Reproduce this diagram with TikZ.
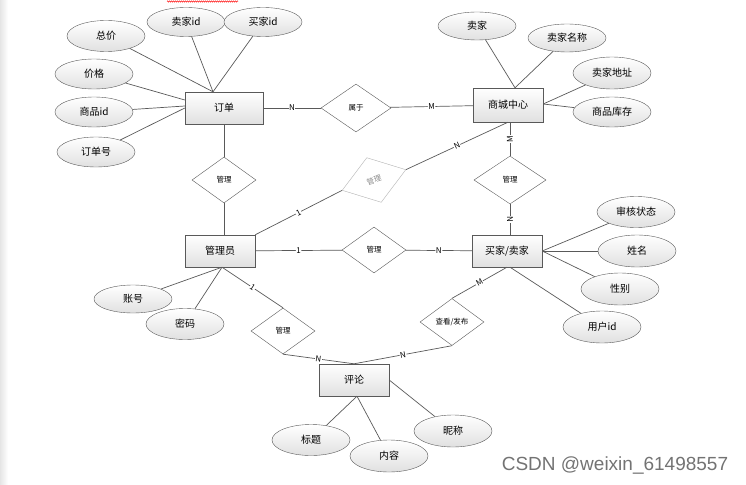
\documentclass[tikz,border=0pt]{standalone}
\usepackage{fontspec}
\setmainfont{Noto Sans CJK SC}
\newfontfamily\wmfont{Liberation Sans}
\usetikzlibrary{shapes.geometric,decorations.pathmorphing}

\tikzset{
  entity/.style={draw=black!65, top color=white, bottom color=black!12, minimum width=70pt, minimum height=32pt, inner sep=0pt, font=\fontsize{10}{10}\selectfont},
  attr/.style={ellipse, draw=black!65, top color=white, bottom color=black!12, minimum width=78pt, minimum height=31pt, inner sep=0pt, font=\fontsize{10}{10}\selectfont},
  rel/.style={diamond, draw=black!65, fill=white, minimum width=64pt, minimum height=46pt, inner sep=0pt, font=\fontsize{7.5}{7.5}\selectfont},
  card/.style={fill=white, inner sep=0.6pt, sloped, font=\fontsize{8}{8}\selectfont},
  conn/.style={draw=black!65, line width=0.7pt}
}

\begin{document}
\begin{tikzpicture}[x=1pt,y=-1pt]
\useasboundingbox (0,0) rectangle (746,484);
\shade[left color=black!10, right color=white] (0,0) rectangle (8,484);
\draw[red, decorate, decoration={zigzag, amplitude=0.7pt, segment length=2pt}] (167,1.5) -- (238,1.5);

% entities
\node[entity, minimum width=78pt] (dd) at (224,108) {订单};
\node[entity, minimum height=34pt] (scz) at (508,105) {商城中心};
\node[entity] (gly) at (220,251) {管理员};
\node[entity] (mj) at (507,251) {买家/卖家};
\node[entity] (pl) at (354,380) {评论};

% relations
\node[rel, minimum width=70pt, minimum height=48pt] (sy) at (356,108) {属于};
\node[rel] (gl1) at (224,180) {管理};
\node[rel, draw=black!30, text=black!45, minimum width=67pt, minimum height=47pt, rotate=18] (gl2) at (374,180) {管理};
\node[rel, minimum width=72pt, minimum height=48pt] (gl3) at (510,180) {管理};
\node[rel] (gl4) at (374,250) {管理};
\node[rel] (gl5) at (283,331) {管理};
\node[rel, minimum height=47pt] (ck) at (452,322) {查看/发布};

% attributes
\node[attr] (zj) at (106,36) {总价};
\node[attr, minimum height=29pt] (mjid) at (186,22) {卖家id};
\node[attr, minimum height=29pt] (bjid) at (263,22) {买家id};
\node[attr, minimum height=30pt] (jg) at (94,74) {价格};
\node[attr, minimum height=30pt] (spid) at (94,112) {商品id};
\node[attr, minimum height=30pt] (ddh) at (96,152) {订单号};

\node[attr, minimum height=28pt] (mai) at (477,26) {卖家};
\node[attr, minimum height=28pt] (mjmc) at (567,38) {卖家名称};
\node[attr, minimum height=32pt] (mjdz) at (612,73) {卖家地址};
\node[attr, minimum height=30pt] (spkc) at (612,112) {商品库存};

\node[attr] (shzt) at (636,212) {审核状态};
\node[attr, minimum height=32pt] (xm) at (637,251) {姓名};
\node[attr, minimum height=32pt] (xb) at (620,289) {性别};
\node[attr, minimum height=32pt] (yhid) at (602,327) {用户id};

\node[attr, minimum height=28pt] (zh) at (133,299) {账号};
\node[attr] (mm) at (185,324) {密码};

\node[attr] (bt) at (311,440) {标题};
\node[attr, minimum height=32pt] (nr) at (389,456) {内容};
\node[attr, minimum height=32pt] (nc) at (453,431) {昵称};

\node[text=black!55, font=\wmfont\fontsize{19}{19}\selectfont] (wm) at (615,465) {CSDN @weixin\_61498557};

% attribute lines
\draw[conn] (zj) -- ([xshift=-11pt]dd.north);
\draw[conn] (mjid) -- ([xshift=-11pt]dd.north);
\draw[conn] (bjid) -- ([xshift=-11pt]dd.north);
\draw[conn] (jg) -- ([yshift=8pt]dd.west);
\draw[conn] (spid) -- ([yshift=2pt]dd.west);
\draw[conn] (ddh) -- (dd.west);

\draw[conn] (mai) -- ([xshift=7pt]scz.north);
\draw[conn] (mjmc) -- ([xshift=7pt]scz.north);
\draw[conn] (mjdz) -- ([yshift=1pt]scz.east);
\draw[conn] (spkc) -- ([yshift=1pt]scz.east);

\draw[conn] (shzt) -- (mj.east);
\draw[conn] (xm) -- (mj.east);
\draw[conn] (xb) -- (mj.east);
\draw[conn] (yhid) -- ([xshift=3pt]mj.south);

\draw[conn] (zh) -- ([xshift=2pt]gly.south);
\draw[conn] (mm) -- ([xshift=2pt]gly.south);

\draw[conn] (bt) -- ([xshift=3pt]pl.south);
\draw[conn] (nr) -- ([xshift=3pt]pl.south);
\draw[conn] (nc) -- (pl.east);

% relation lines
\draw[conn] (dd) -- node[card] {N} (sy);
\draw[conn] (sy) -- node[card] {M} (scz);
\draw[conn] (dd.south) -- (gl1.north);
\draw[conn] (gl1.south) -- ([xshift=4pt]gly.north);
\draw[conn] (gl2.east) -- node[card] {N} (scz.south);
\draw[conn] (gly.north east) -- node[card] {1} (gl2.west);
\draw[conn] (gl3.north) -- node[card] {M} (gl3.north |- scz.south);
\draw[conn] (gl3.south) -- node[card] {N} (gl3.south |- mj.north);
\draw[conn] (gly) -- node[card] {1} (gl4);
\draw[conn] (gl4) -- node[card] {N} (mj);
\draw[conn] (mj.south) -- node[card] {M} (ck.north);
\draw[conn] (ck.south) -- node[card] {N} (pl.north);
\draw[conn] ([xshift=2pt]gly.south) -- node[card] {1} (gl5.north);
\draw[conn] (gl5.south) -- node[card] {N} (pl.north);
\end{tikzpicture}
\end{document}
